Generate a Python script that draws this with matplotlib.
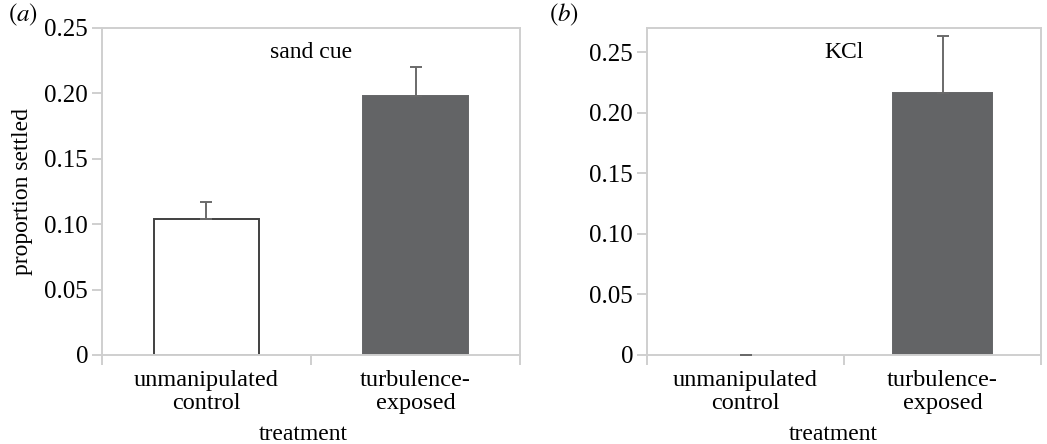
#!/usr/bin/env python3
"""Proportion settled by treatment: sand cue (a) vs KCl (b)."""

import matplotlib
matplotlib.use("Agg")
import matplotlib.pyplot as plt

plt.rcParams["font.family"] = ["Liberation Serif", "DejaVu Serif"]
plt.rcParams["mathtext.fontset"] = "stix"

# ---- data ------------------------------------------------------------
categories = ["unmanipulated\ncontrol", "turbulence-\nexposed"]
sand_mean = [0.104, 0.198]
sand_err = [0.013, 0.022]
kcl_mean = [0.0, 0.216]
kcl_err = [0.0, 0.047]

FRAME = "#cfcfcf"
DARK = "#636466"

fig = plt.figure(figsize=(10.47, 4.44), dpi=100)
ax_a = fig.add_axes([0.0974, 0.2005, 0.3993, 0.7365])
ax_b = fig.add_axes([0.618, 0.2005, 0.3763, 0.7365])


def draw_panel(ax, means, errs, top, title, letter, label_x):
    x = list(range(len(categories)))
    faces = ["white", DARK]
    edges = ["#404040", DARK]
    for i in x:
        if means[i] > 0:
            ax.bar(i, means[i], width=0.5, color=faces[i], edgecolor=edges[i],
                   linewidth=1.4, zorder=2)
    # only the upper half of each error bar is drawn
    ax.errorbar(x, means, yerr=[[0] * len(errs), errs], fmt="none",
                ecolor="#6a6a6a", elinewidth=1.4, capsize=4, capthick=1.4,
                zorder=3)

    ax.set_xlim(-0.5, 1.5)
    ax.set_ylim(0, top)
    ax.set_yticks([0, 0.05, 0.10, 0.15, 0.20, 0.25])
    ax.set_yticklabels(["0", "0.05", "0.10", "0.15", "0.20", "0.25"])
    ax.set_xticks([0, 1])
    ax.set_xticklabels(categories, linespacing=1.08)
    ax.set_xticks([-0.5, 0.5, 1.5], minor=True)
    ax.tick_params(axis="x", which="major", length=0, labelsize=17.5, pad=11)
    ax.tick_params(axis="x", which="minor", length=7, width=1.4, color=FRAME)
    ax.tick_params(axis="y", length=7, width=1.4, color=FRAME, labelsize=18,
                   pad=3)
    for s in ax.spines.values():
        s.set_color(FRAME)
        s.set_linewidth(1.4)
    ax.set_xlabel("treatment", fontsize=17)
    ax.xaxis.set_label_coords(label_x, -0.21)
    ax.text(0.5, 0.925, title, transform=ax.transAxes, ha="center",
            va="center", fontsize=17)
    ax.text(-0.19 if letter == "a" else -0.21, 1.0, rf"$(\mathit{{{letter}}})$",
            transform=ax.transAxes, ha="center", va="bottom", fontsize=18)


draw_panel(ax_a, sand_mean, sand_err, 0.25, "sand cue", "a", 0.481)
draw_panel(ax_b, kcl_mean, kcl_err, 0.27, "KCl", "b", 0.472)
ax_a.set_ylabel("proportion settled", fontsize=17, labelpad=8)

fig.savefig("out.png", dpi=100)
